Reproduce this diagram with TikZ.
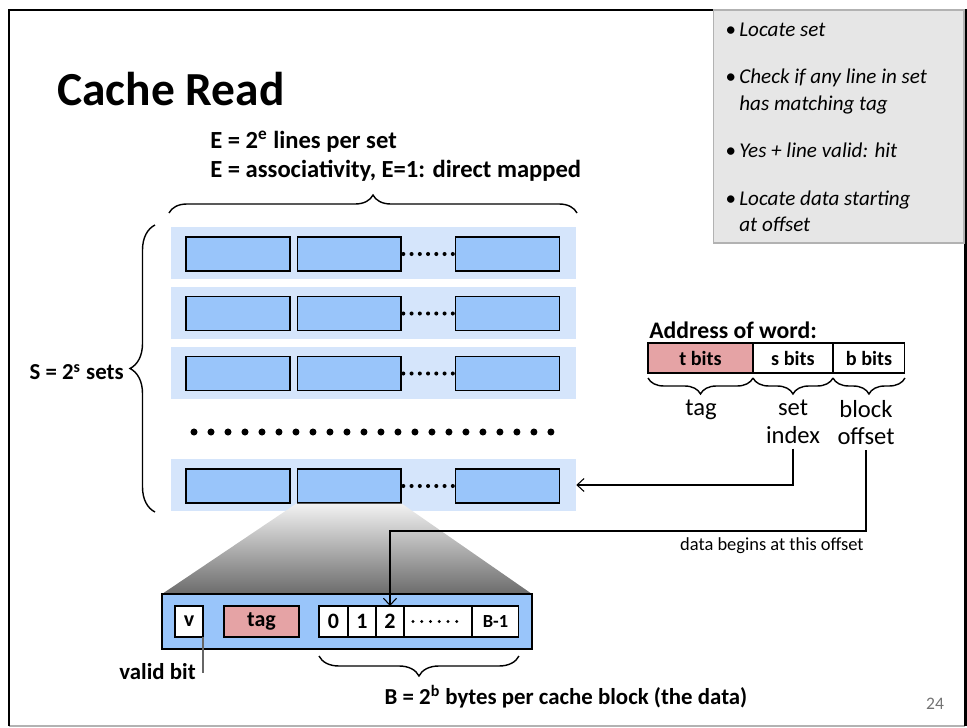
\documentclass[tikz,border=0pt]{standalone}
\usepackage{fontspec}
\setmainfont{Carlito}
\usetikzlibrary{arrows.meta,positioning,decorations.pathreplacing}
\definecolor{rowbg}{HTML}{D5E5FB}
\definecolor{linefill}{HTML}{99C5FA}
\definecolor{tagpink}{HTML}{E5A3A5}
\definecolor{panel}{HTML}{E6E6E6}

\begin{document}
\begin{tikzpicture}[
x=0.02cm, y=-0.02cm,
setrow/.style={fill=rowbg, minimum width=8.1cm, minimum height=1.04cm, inner sep=0pt},
linebox/.style={draw, fill=linefill, line width=0.6pt, minimum width=2.08cm, minimum height=0.68cm, inner sep=0pt},
field/.style={draw, line width=0.6pt, fill=white, minimum height=0.6cm, inner sep=0pt, outer sep=0pt, font=\fontsize{11.5}{13}\selectfont\bfseries},
cell/.style={draw, line width=0.6pt, fill=white, minimum height=0.62cm, minimum width=0.56cm, inner sep=0pt, outer sep=0pt, font=\fontsize{12.5}{14}\selectfont\bfseries},
lbl/.style={font=\fontsize{13}{17}\selectfont\bfseries, inner sep=0pt},
part/.style={font=\fontsize{14}{15.5}\selectfont, align=center, inner sep=0pt},
curly/.style={decorate, decoration={brace, amplitude=#1}, line width=0.8pt},
ptr/.style={-{Straight Barb[length=1.4mm, width=2.6mm]}, line width=0.6pt},
smalldots/.style={line width=2.3pt, line cap=round, dash pattern=on 0pt off 0.165cm, shorten <=1pt},
celldots/.style={line width=1.9pt, line cap=round, dash pattern=on 0pt off 0.175cm},
bigdots/.style={line width=4pt, line cap=round, dash pattern=on 0pt off 0.34cm}
]
% slide frame and note panel
\useasboundingbox (0,0) rectangle (967,727);
\draw[black!30, line width=0.6pt] (9,726) -- (965,726);
\draw[line width=1.7pt] (9,726) -- (9,10) -- (965,10) -- (965,726);
\node[draw=black!30, fill=panel, line width=0.6pt, minimum width=5.02cm, minimum height=4.66cm, inner sep=0pt] (notes) at (838.5,126.5) {};
\node[anchor=north west, align=left, inner sep=0pt, font=\fontsize{12}{15.3}\selectfont\itshape] (steps) at (725,23) {%
\textbullet\,Locate set\\[11.5pt]
\textbullet\,Check if any line in set\\
\hphantom{\textbullet\,}has matching tag\\[11.5pt]
\textbullet\,Yes + line valid: hit\\[11.5pt]
\textbullet\,Locate data starting\\
\hphantom{\textbullet\,}at offset};

\node[anchor=base west, inner sep=0pt, font=\fontsize{27}{30}\selectfont\bfseries] (title) at (57,105) {Cache Read};

% sets of lines
\node[lbl, font=\fontsize{14}{16.5}\selectfont\bfseries, align=left, anchor=west] (elabel) at (210,156) {E = 2\textsuperscript{e} lines per set\\E = associativity, E=1: direct mapped};
\draw[curly=0.36cm] (169,213) -- (577,213);

\node[setrow] (s1) at (373.5,253) {};
\node[linebox] (l1a) at (238,254) {};
\node[linebox, right=0.12cm of l1a] (l1b) {};
\node[linebox] (l1c) at (507.5,254) {};
\draw[smalldots] (l1b.east) -- (l1c.west);

\node[setrow] (s2) at (373.5,312.5) {};
\node[linebox] (l2a) at (238,313.5) {};
\node[linebox, right=0.12cm of l2a] (l2b) {};
\node[linebox] (l2c) at (507.5,313.5) {};
\draw[smalldots] (l2b.east) -- (l2c.west);

\node[setrow] (s3) at (373.5,372.5) {};
\node[linebox] (l3a) at (238,373.5) {};
\node[linebox, right=0.12cm of l3a] (l3b) {};
\node[linebox] (l3c) at (507.5,373.5) {};
\draw[smalldots] (l3b.east) -- (l3c.west);

\draw[bigdots] (194,432) -- (555,432);

\node[setrow] (s4) at (373.5,485) {};
\node[linebox] (l4a) at (238,486) {};
\node[linebox, right=0.12cm of l4a] (l4b) {};
\node[linebox] (l4c) at (507.5,486) {};
\draw[smalldots] (l4b.east) -- (l4c.west);

\draw[curly=0.5cm] (155,512) -- (155,225);
\node[lbl, anchor=east] (slabel) at (124,372) {S = 2\textsuperscript{s} sets};

% zoomed line
\shade[top color=black!5, bottom color=black!58] (l4b.south west) -- (l4b.south east) -- (532,594) -- (162,594) -- cycle;
\node[draw, fill=linefill, line width=0.8pt, minimum width=7.4cm, minimum height=1.1cm, inner sep=0pt] (blk) at (347,621.5) {};
\node[cell] (cv) at (189,621.5) {v};
\node[cell, fill=tagpink, minimum width=1.5cm] (ctag) at (261.5,621.5) {tag};
\node[cell, minimum width=0.58cm] (c0) at (333.5,621.5) {0};
\node[cell, right=0pt of c0] (c1) {1};
\node[cell, right=0pt of c1] (c2) {2};
\node[cell, right=0pt of c2, minimum width=1.36cm] (cdots) {};
\draw[celldots] ([xshift=0.18cm]cdots.west) -- ([xshift=-0.2cm]cdots.east);
\node[cell, right=0pt of cdots, minimum width=0.94cm, font=\fontsize{10.5}{12}\selectfont\bfseries] (cb) {B-1};

\node[lbl, anchor=east] (lbvalid) at (196,672) {valid bit};
\draw[black!60, line width=0.6pt] (cv.south east) -- ++(0,36);
\draw[curly=0.4cm] ([yshift=-0.38cm]cb.south east) -- ([yshift=-0.38cm]c0.south west);
\node[lbl] (lbbytes) at (566,697) {B = 2\textsuperscript{b} bytes per cache block (the data)};

% address
\node[lbl, font=\fontsize{13.5}{15}\selectfont\bfseries, anchor=west] (addr) at (649,330) {Address of word:};
\node[field, fill=tagpink, minimum width=2.1cm] (tb) at (700.5,358) {t bits};
\node[field, right=0pt of tb, minimum width=1.6cm] (sb) {s bits};
\node[field, right=0pt of sb, minimum width=1.44cm] (bb) {b bits};
\draw[curly=0.32cm] ([yshift=-0.1cm]tb.south east) -- ([yshift=-0.1cm]tb.south west);
\draw[curly=0.32cm] ([yshift=-0.1cm]sb.south east) -- ([yshift=-0.1cm]sb.south west);
\draw[curly=0.32cm] ([yshift=-0.1cm]bb.south east) -- ([yshift=-0.1cm]bb.south west);
\node[part, anchor=north] (lbtag) at (701,400) {tag};
\node[part, anchor=north] (lbset) at (793,400) {set\\index};
\node[part, anchor=north] (lboff) at (866,400) {block\\offset};

\draw[ptr] (lbset.south) ++(0,5) |- (s4.east);
\draw[ptr] (lboff.south) ++(0,5) -- (866,531) -| (c2.north);
\node[anchor=east, inner sep=0pt, font=\fontsize{10.5}{12}\selectfont] (lbdata) at (864,546) {data begins at this offset};

\node[inner sep=0pt, text=black!55, font=\fontsize{10}{12}\selectfont] (page) at (935,704) {24};
\end{tikzpicture}
\end{document}
